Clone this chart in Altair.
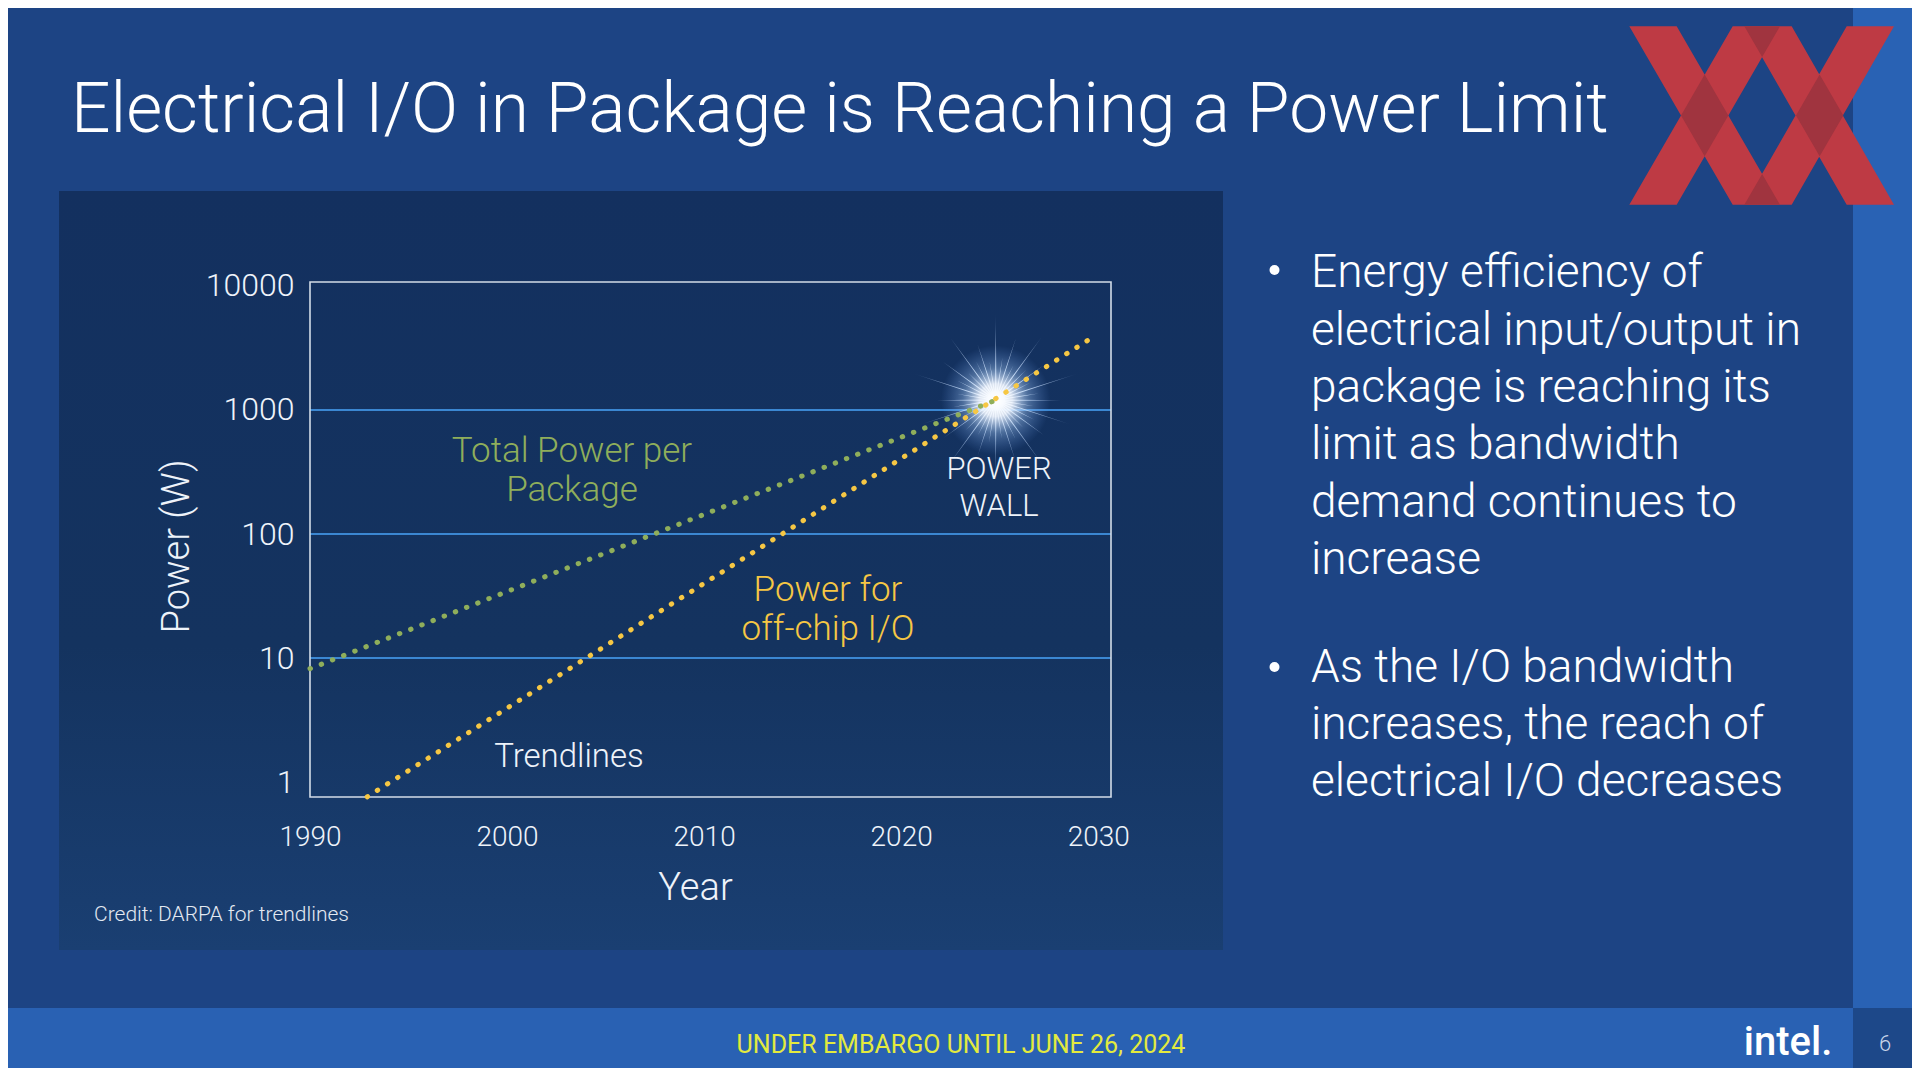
import math
import altair as alt
import pandas as pd

# ---------------- data ----------------
series_names = ["Total Power per Package", "Power for off-chip I/O"]
years_total = [1990.0, 2024.8]
power_total = [8.2, 1200.0]
years_io = [1992.9, 2029.5]
power_io = [0.76, 3670.0]
wall_year = [2024.8]
wall_power = [1200.0]
grid_values = [10, 100, 1000]
y_ticks = [1, 10, 100, 1000, 10000]
x_ticks = [1990, 2000, 2010, 2020, 2030]

title_text = "Electrical I/O in Package is Reaching a Power Limit"
bullet1 = ["Energy efficiency of", "electrical input/output in", "package is reaching its",
           "limit as bandwidth", "demand continues to", "increase"]
bullet2 = ["As the I/O bandwidth", "increases, the reach of", "electrical I/O decreases"]
label_total = ["Total Power per", "Package"]
label_io = ["Power for", "off-chip I/O"]
label_wall = ["POWER", "WALL"]
label_trend = "Trendlines"
credit_text = "Credit: DARPA for trendlines"
footer_text = "UNDER EMBARGO UNTIL JUNE 26, 2024"
page_no = "6"

# ---------------- layout ----------------
FONT = "Roboto"
W, H = 801, 515
OX, OY = 310, 282          # slide position of the plot's top-left corner
BG = "#1d4484"
GREEN = "#8fae5b"
YELLOW = "#f6c744"
WHITE = "#eef3fa"


def px(x):
    return x - OX


def py(y):
    return y - OY


lines_df = pd.DataFrame({
    "year": years_total + years_io,
    "power": power_total + power_io,
    "series": [series_names[0]] * len(years_total) + [series_names[1]] * len(years_io),
})
grid_df = pd.DataFrame({"power": grid_values})
wall_df = pd.DataFrame({"year": wall_year, "power": wall_power})
dummy = pd.DataFrame({"d": [0]})
base = alt.Chart(dummy)

xs = alt.Scale(domain=[1990, 2030.65], nice=False, zero=False)
ys = alt.Scale(type="log", domain=[0.757, 10770], nice=False)

xaxis = alt.Axis(values=x_ticks, format="d", title="Year", labelFont=FONT, labelFontSize=28,
                 labelFontWeight=300, labelColor=WHITE, labelPadding=40, labelBaseline="middle",
                 ticks=False, tickSize=0, domain=False, grid=False, labelFlush=False,
                 labelOverlap=False, titleFont=FONT, titleFontSize=38, titleFontWeight=300,
                 titleColor=WHITE, titleX=385, titleY=91, titleAlign="center",
                 titleBaseline="middle", zindex=1)
yaxis = alt.Axis(values=y_ticks, format="d", title="Power (W)", labelFont=FONT, labelFontSize=32,
                 labelFontWeight=300, labelColor=WHITE, labelPadding=16, ticks=False, tickSize=0,
                 domain=False, grid=False, labelFlush=False, labelOverlap=False, titleFont=FONT,
                 titleFontSize=38, titleFontWeight=300, titleColor=WHITE, titleX=-132.5,
                 titleY=264, titleAngle=270, titleAlign="center", titleBaseline="middle", zindex=1)

X = alt.X("year:Q", scale=xs, axis=xaxis)
Y = alt.Y("power:Q", scale=ys, axis=yaxis)


def rect(x1, y1, x2, y2, **kw):
    return base.mark_rect(**kw).encode(
        x=alt.value(px(x1)), x2=alt.value(px(x2)), y=alt.value(py(y1)), y2=alt.value(py(y2)))


def label(x, y, s, size, color=WHITE, align="center", baseline="middle", weight=300):
    return base.mark_text(text=s, font=FONT, fontSize=size, fontWeight=weight, color=color,
                          align=align, baseline=baseline).encode(
        x=alt.value(px(x)), y=alt.value(py(y)))


# ---------- background blocks ----------
layers = [
    rect(1853, -10, 1930, 1008, color="#2962b4"),
    rect(-10, 1008, 1853, 1090, color="#2961b3"),
    rect(1853, 1008, 1930, 1090, color="#1d4889"),
    rect(59, 191, 1223, 950, color=alt.LinearGradient(
        gradient="linear", x1=0, x2=0, y1=0, y2=1,
        stops=[alt.GradientStop(offset=0, color="#13305f"),
               alt.GradientStop(offset=0.6, color="#14335f"),
               alt.GradientStop(offset=1, color="#1a3f72")])),
]

# ---------- gridlines + border ----------
layers.append(alt.Chart(grid_df).mark_rule(color="#3b87d2", strokeWidth=2).encode(y=Y))
layers.append(rect(OX, OY, OX + W, OY + H, filled=False, stroke="#d3dce8", strokeWidth=1.6))

# ---------- power wall glow ----------
def star_path(n=40, pattern=(1.0, 0.5, 0.75, 0.45, 0.9, 0.5, 0.68, 0.45), inner=0.1):
    pts = []
    for k in range(n):
        a = 2 * math.pi * k / n - math.pi / 2
        r = pattern[k % len(pattern)]
        pts.append((r * math.cos(a), r * math.sin(a)))
        a2 = a + math.pi / n
        pts.append((inner * math.cos(a2), inner * math.sin(a2)))
    return "M" + " L".join(f"{x:.3f},{y:.3f}" for x, y in pts) + " Z"


glow = alt.RadialGradient(gradient="radial", x1=0.5, y1=0.5, r1=0, x2=0.5, y2=0.5, r2=0.5,
                          stops=[alt.GradientStop(offset=0, color="rgba(255,255,255,1)"),
                                 alt.GradientStop(offset=0.3, color="rgba(240,246,255,0.9)"),
                                 alt.GradientStop(offset=0.6, color="rgba(160,198,245,0.4)"),
                                 alt.GradientStop(offset=1, color="rgba(100,150,230,0)")])
rays = alt.RadialGradient(gradient="radial", x1=0.5, y1=0.5, r1=0, x2=0.5, y2=0.5, r2=0.5,
                          stops=[alt.GradientStop(offset=0, color="rgba(255,255,255,1)"),
                                 alt.GradientStop(offset=0.35, color="rgba(232,242,255,0.9)"),
                                 alt.GradientStop(offset=0.75, color="rgba(185,212,250,0.55)"),
                                 alt.GradientStop(offset=1, color="rgba(165,198,245,0.1)")])
layers.append(alt.Chart(wall_df).mark_point(shape=star_path(), filled=True, size=30000, opacity=1,
                                            fill=rays, strokeWidth=0).encode(x=X, y=Y))
layers.append(alt.Chart(wall_df).mark_point(shape="circle", filled=True, size=12000, opacity=1,
                                            fill=glow, strokeWidth=0).encode(x=X, y=Y))

# ---------- trendlines ----------
layers.append(alt.Chart(lines_df).mark_line(strokeDash=[0.5, 11.5], strokeCap="round",
                                            strokeWidth=5).encode(
    x=X, y=Y,
    color=alt.Color("series:N", scale=alt.Scale(domain=series_names, range=[GREEN, YELLOW]),
                    legend=None)))

# ---------- annotations ----------
layers += [
    label(572, 451, label_total[0], 35, GREEN),
    label(572, 490, label_total[1], 35, GREEN),
    label(828, 590, label_io[0], 35, YELLOW),
    label(828, 629, label_io[1], 35, YELLOW),
    label(999, 470, label_wall[0], 31, WHITE),
    label(999, 507, label_wall[1], 31, WHITE),
    label(569, 757, label_trend, 33, WHITE),
    label(94, 915, credit_text, 21, "#e3e9f2", align="left"),
]

# ---------- title ----------
layers.append(label(71, 132, title_text, 69.5, "#ffffff", align="left", baseline="alphabetic"))

# ---------- bullets ----------
b1_base = [287.4, 344.8, 402.1, 459.4, 516.7, 574.0]
b2_base = [681.6, 739.0, 796.4]
for s, yb in zip(bullet1, b1_base):
    layers.append(label(1311, yb, s, 46, "#ffffff", align="left", baseline="alphabetic"))
for s, yb in zip(bullet2, b2_base):
    layers.append(label(1311, yb, s, 46, "#ffffff", align="left", baseline="alphabetic"))
for yc in [270, 667]:
    layers.append(base.mark_circle(size=100, opacity=1, color="#ffffff").encode(
        x=alt.value(px(1274.5)), y=alt.value(py(yc))))

# ---------- footer ----------
layers += [
    label(961, 1045, footer_text, 25, "#e3ea3e", weight=400),
    label(1788, 1055, "intel.", 40, "#ffffff", baseline="alphabetic", weight=500),
    label(1885, 1044, page_no, 22, "#c9d5ea", weight=300),
]

# ---------- logo (XX) ----------
T, B = 26.3, 204.7
CX, CY, R = 1761.65, 115.5, 132.35
bands = [
    [(1629.3, T), (1676.7, T), (1780, B), (1732.7, B)],
    [(1732.7, T), (1780, T), (1676.7, B), (1629.3, B)],
    [(1744.3, T), (1791.7, T), (1894, B), (1846.7, B)],
    [(1846.7, T), (1894, T), (1791.7, B), (1744.3, B)],
]
overlaps = [
    [(1704.65, 74.6), (1728.35, 115.5), (1704.65, 156.3), (1681, 115.5)],
    [(1819.65, 74.6), (1843.35, 115.5), (1819.65, 156.3), (1796, 115.5)],
    [(1744.3, T), (1780, T), (1762.15, 57.1)],
    [(1744.3, B), (1780, B), (1762.15, 173.9)],
]


def poly_path(polys):
    parts = []
    for p in polys:
        pts = [((x - CX) / R, (y - CY) / R) for x, y in p]
        parts.append("M" + " L".join(f"{a:.4f},{b:.4f}" for a, b in pts) + " Z")
    return " ".join(parts)


for polys, col in [(bands, "#be3a44"), (overlaps, "#a0343f")]:
    layers.append(base.mark_point(shape=poly_path(polys), filled=True, size=(2 * R) ** 2,
                                  opacity=1, color=col, strokeWidth=0).encode(
        x=alt.value(px(CX)), y=alt.value(py(CY))))

chart = alt.layer(*layers).properties(
    width=W, height=H,
    padding={"left": 302, "top": 274, "right": 801, "bottom": 271},
    autosize=alt.AutoSizeParams(type="none"),
    background=BG,
).configure_view(strokeWidth=0)

chart.save("out.html", embed_options={"renderer": "svg", "actions": False})
